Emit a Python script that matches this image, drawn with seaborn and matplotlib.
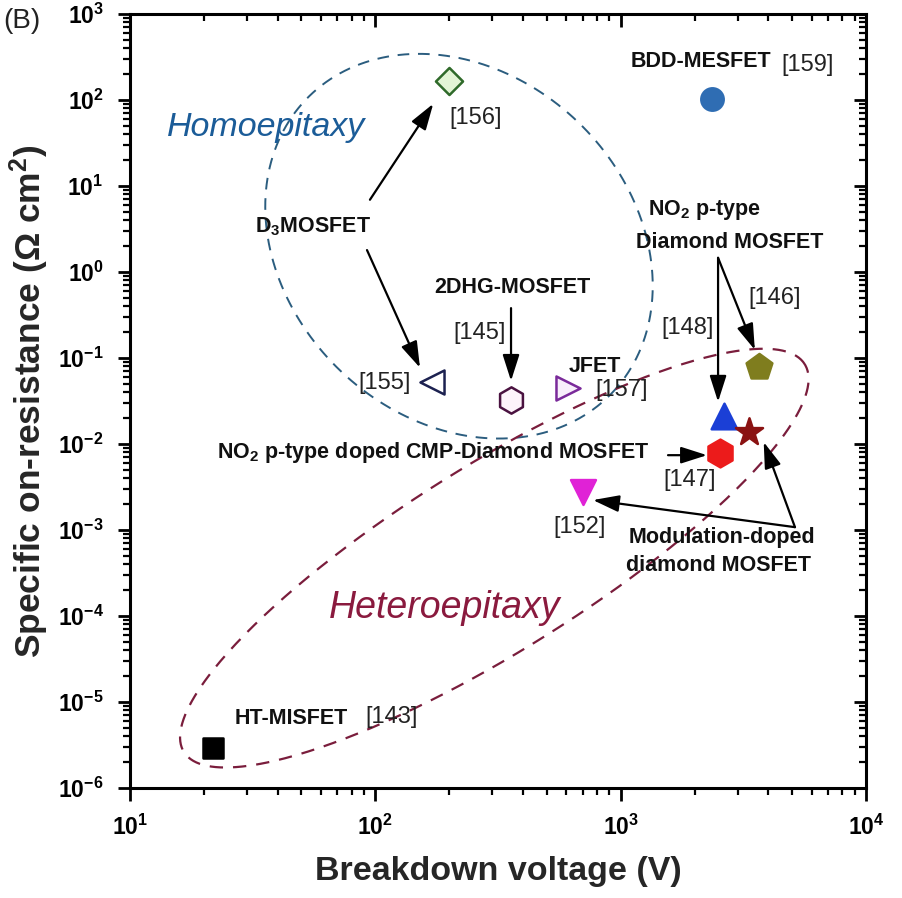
import numpy as np
import pandas as pd
import matplotlib
matplotlib.use("Agg")
import matplotlib.pyplot as plt
import seaborn as sns
from matplotlib.ticker import LogLocator, FixedLocator, FixedFormatter, NullFormatter

# ---------------- data ----------------
devices = ["BDD-MESFET [159]", "D3MOSFET [156]", "D3MOSFET [155]", "2DHG-MOSFET [145]",
           "JFET [157]", "NO2 p-type MOSFET [146]", "NO2 p-type MOSFET [148]",
           "Modulation-doped MOSFET", "NO2 CMP-Diamond MOSFET [147]",
           "Modulation-doped MOSFET [152]", "HT-MISFET [143]"]
breakdown_v = [2350, 199, 171, 356, 608, 3650, 2630, 3320, 2550, 700, 21.8]
on_resistance = [102, 166, 0.0526, 0.0325, 0.0448, 0.0785, 0.0212, 0.0138, 0.00785, 0.00277, 2.9e-6]
markers = ["o", "D", "<", "h", ">", "p", "^", "*", "h", "v", "s"]
face_colors = ["#2f6db3", "#e3f5d6", "#ffffff", "#fdf3fa", "#f8effb", "#7f7d1e",
               "#1b3fd6", "#8a1212", "#ec1b1b", "#e022d6", "#000000"]
edge_colors = ["#2f6db3", "#2f6a2a", "#1c2150", "#4a1240", "#7a2a9a", "#7f7d1e",
               "#1b3fd6", "#8a1212", "#ec1b1b", "#e022d6", "#000000"]
sizes = [260, 190, 300, 360, 300, 380, 340, 420, 400, 320, 210]
x_ticks = [1e1, 1e2, 1e3, 1e4]
x_tick_labels = [r"$\mathbf{10^{1}}$", r"$\mathbf{10^{2}}$", r"$\mathbf{10^{3}}$", r"$\mathbf{10^{4}}$"]
y_ticks = [1e-6, 1e-5, 1e-4, 1e-3, 1e-2, 1e-1, 1e0, 1e1, 1e2, 1e3]
y_tick_labels = [r"$\mathbf{10^{%d}}$" % e for e in range(-6, 4)]

df = pd.DataFrame({"device": devices, "V": breakdown_v, "R": on_resistance})

# ---------------- style ----------------
sns.set_theme(style="ticks")
plt.rcParams["font.family"] = ["Liberation Sans", "DejaVu Sans"]
plt.rcParams["mathtext.fontset"] = "custom"
plt.rcParams["mathtext.rm"] = "Liberation Sans"
plt.rcParams["mathtext.bf"] = "Liberation Sans:bold"
plt.rcParams["mathtext.it"] = "Liberation Sans:italic"

DPI = 100
fig = plt.figure(figsize=(9.02, 8.98), dpi=DPI)
L, B, R, T = 130 / 902, 1 - 788 / 898, 866 / 902, 1 - 14 / 898
ax = fig.add_axes([L, B, R - L, T - B])
ax.set_xscale("log")
ax.set_yscale("log")
ax.set_xlim(1e1, 1e4)
ax.set_ylim(1e-6, 1e3)

for i in range(len(df)):
    sns.scatterplot(data=df.iloc[[i]], x="V", y="R", marker=markers[i], s=sizes[i],
                    color=face_colors[i], edgecolor=edge_colors[i], linewidth=1.8,
                    ax=ax, legend=False, zorder=5)

# ---------------- axes ----------------
for s in ax.spines.values():
    s.set_linewidth(2.2)
    s.set_color("black")
ax.xaxis.set_major_locator(FixedLocator(x_ticks))
ax.xaxis.set_major_formatter(FixedFormatter(x_tick_labels))
ax.yaxis.set_major_locator(FixedLocator(y_ticks))
ax.yaxis.set_major_formatter(FixedFormatter(y_tick_labels))
ax.xaxis.set_minor_locator(LogLocator(base=10, subs=np.arange(2, 10), numticks=20))
ax.yaxis.set_minor_locator(LogLocator(base=10, subs=np.arange(2, 10), numticks=20))
ax.xaxis.set_minor_formatter(NullFormatter())
ax.yaxis.set_minor_formatter(NullFormatter())
ax.tick_params(which="major", direction="out", length=9, width=2, labelsize=16.5,
               colors="black", pad=10)
ax.tick_params(which="minor", direction="out", length=5, width=1.6, colors="black")
ax.tick_params(axis="both", which="both", top=True, right=True)
for tk in ax.xaxis.get_major_ticks() + ax.xaxis.get_minor_ticks():
    tk.tick2line.set_marker(3)
for tk in ax.yaxis.get_major_ticks() + ax.yaxis.get_minor_ticks():
    tk.tick2line.set_marker(0)
ax.set_xlabel("Breakdown voltage (V)", fontsize=24.5, fontweight="bold", labelpad=12)
ax.set_ylabel(r"Specific on-resistance ($\mathbf{\Omega}$ cm$^{\mathbf{2}}$)", fontsize=25.5,
              fontweight="bold", labelpad=5)
ax.grid(False)

# ---------------- ellipses (axes-fraction, in pixel units) ----------------
W = (R - L) * 902
H = (T - B) * 898
def ellipse(cx, cy, a, b, ang):
    t = np.linspace(0, 2 * np.pi, 400)
    th = np.deg2rad(ang)
    X = a * np.cos(t) * np.cos(th) - b * np.sin(t) * np.sin(th)
    Y = a * np.cos(t) * np.sin(th) + b * np.sin(t) * np.cos(th)
    return cx + X / W, cy + Y / H

ex, ey = ellipse(0.447, 0.700, 212, 172, -44)
ax.plot(ex, ey, transform=ax.transAxes, color="#2b5d7f", lw=1.4, ls=(0, (6, 4.5)), zorder=2)
ex, ey = ellipse(0.495, 0.297, 366, 93, 32.0)
ax.plot(ex, ey, transform=ax.transAxes, color="#7a1d3c", lw=1.6, ls=(0, (6, 4.5)), zorder=2)

# ---------------- texts ----------------
tb = dict(transform=ax.transAxes, ha="center", va="center", fontsize=15.5, fontweight="bold",
          color="#111111", zorder=6)
tr = dict(transform=ax.transAxes, ha="center", va="center", fontsize=17, color="#222222", zorder=6)

ax.text(0.185, 0.853, "Homoepitaxy", transform=ax.transAxes, ha="center", va="center",
        fontsize=24.5, style="italic", color="#1b5c98")
ax.text(0.428, 0.2326, "Heteroepitaxy", transform=ax.transAxes, ha="center", va="center",
        fontsize=27, style="italic", color="#8a1a3e")

ax.text(0.469, 0.866, "[156]", **tr)
ax.text(0.249, 0.725, r"D$_{\mathbf{3}}$MOSFET", **tb)
ax.text(0.776, 0.938, "BDD-MESFET", **tb)
ax.text(0.920, 0.934, "[159]", **tr)
ax.text(0.781, 0.747, r"NO$_{\mathbf{2}}$ p-type", **tb)
ax.text(0.815, 0.705, "Diamond MOSFET", **tb)
ax.text(0.876, 0.633, "[146]", **tr)
ax.text(0.757, 0.594, "[148]", **tr)
ax.text(0.520, 0.646, "2DHG-MOSFET", **tb)
ax.text(0.4755, 0.588, "[145]", **tr)
ax.text(0.346, 0.523, "[155]", **tr)
ax.text(0.632, 0.544, "JFET", **tb)
ax.text(0.668, 0.514, "[157]", **tr)
ax.text(0.412, 0.434, r"NO$_{\mathbf{2}}$ p-type doped CMP-Diamond MOSFET", **tb)
ax.text(0.761, 0.398, "[147]", **tr)
ax.text(0.611, 0.337, "[152]", **tr)
ax.text(0.804, 0.323, "Modulation-doped", **tb)
ax.text(0.799, 0.287, "diamond MOSFET", **tb)
tbl = dict(tb); tbl["ha"] = "left"
ax.text(0.1427, 0.0904, "HT-MISFET", **tbl)
ax.text(0.356, 0.0917, "[143]", **tr)

fig.text(0.004, 0.977, "(B)", fontsize=20, ha="left", va="center", color="#222222")

# ---------------- arrows ----------------
arrows = [((0.326, 0.760), (0.412, 0.884)),
          ((0.322, 0.695), (0.394, 0.543)),
          ((0.5177, 0.620), (0.5177, 0.526)),
          ((0.799, 0.685), (0.799, 0.499)),
          ((0.799, 0.685), (0.849, 0.566)),
          ((0.731, 0.430), (0.784, 0.430)),
          ((0.9035, 0.337), (0.629, 0.372)),
          ((0.9035, 0.337), (0.861, 0.447))]
for tail, head in arrows:
    ax.annotate("", xy=head, xycoords="axes fraction", xytext=tail, textcoords="axes fraction",
                arrowprops=dict(arrowstyle="-|>,head_length=1.0,head_width=0.32", color="black",
                                lw=1.6, shrinkA=0, shrinkB=0, mutation_scale=16), zorder=7)

fig.savefig("out.png", dpi=DPI, facecolor="white")
